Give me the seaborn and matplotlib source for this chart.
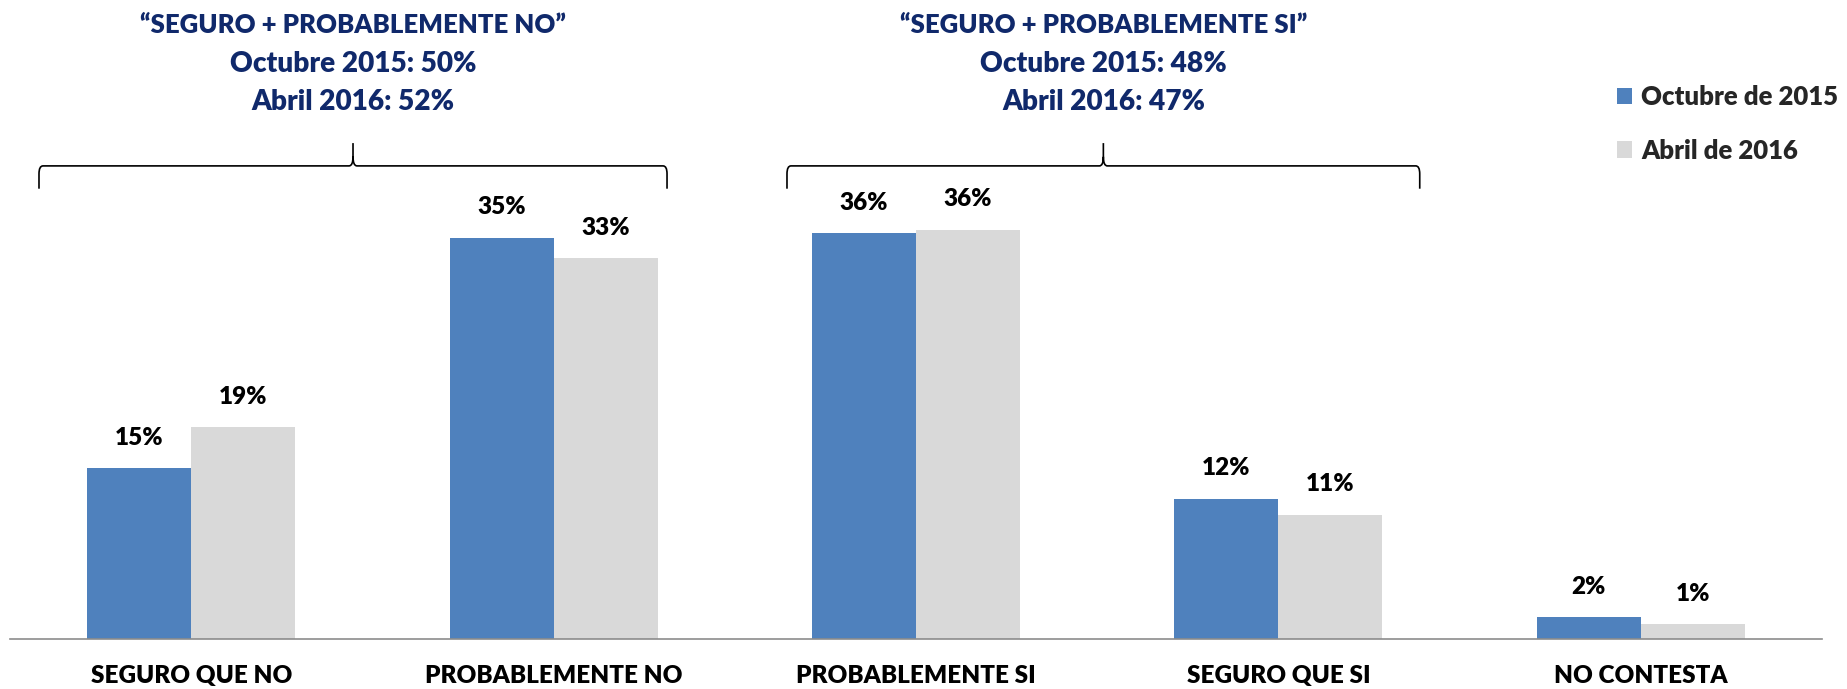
import numpy as np
import pandas as pd
import matplotlib
matplotlib.use("Agg")
import matplotlib.pyplot as plt
from matplotlib.path import Path
from matplotlib.patches import PathPatch
import seaborn as sns

# ---- data ----
categories = ["SEGURO QUE NO", "PROBABLEMENTE NO", "PROBABLEMENTE SI", "SEGURO QUE SI", "NO CONTESTA"]
series_names = ["Octubre de 2015", "Abril de 2016"]
oct_2015 = [15.0, 35.2, 35.6, 12.3, 1.9]
abr_2016 = [18.6, 33.4, 35.9, 10.9, 1.3]
oct_labels = ["15%", "35%", "36%", "12%", "2%"]
abr_labels = ["19%", "33%", "36%", "11%", "1%"]
group_titles = ["\u201cSEGURO + PROBABLEMENTE NO\u201d", "\u201cSEGURO + PROBABLEMENTE SI\u201d"]
group_lines = [["Octubre 2015: 50%", "Abril 2016: 52%"],
               ["Octubre 2015: 48%", "Abril 2016: 47%"]]

colors = ["#4F81BD", "#D9D9D9"]
navy = "#10296B"
axis_grey = "#8C8C8C"

df = pd.DataFrame({
    "cat": categories * 2,
    "val": oct_2015 + abr_2016,
    "serie": [series_names[0]] * len(categories) + [series_names[1]] * len(categories),
})

sns.set_theme(style="white")
FONT = ["Lato", "DejaVu Sans"]
plt.rcParams["font.family"] = FONT
WT = "heavy"

W, H = 1847, 689
fig = plt.figure(figsize=(W / 100, H / 100), dpi=100)
ax = fig.add_axes([10 / W, 50 / H, 1812 / W, 570 / H])

sns.barplot(data=df, x="cat", y="val", hue="serie", order=categories,
            hue_order=series_names, palette=colors, saturation=1,
            width=0.574, gap=0, ax=ax, legend=True, linewidth=0)

ax.set_xlim(-0.5, len(categories) - 0.5)
ax.set_ylim(0, 50)
ax.set_xlabel("")
ax.set_ylabel("")
ax.set_yticks([])
for s in ["left", "right", "top"]:
    ax.spines[s].set_visible(False)
ax.spines["bottom"].set_color(axis_grey)
ax.spines["bottom"].set_linewidth(1.2)

ax.set_xticks(range(len(categories)))
ax.set_xticklabels(categories, fontfamily=FONT, fontweight=WT, fontsize=17.5, color="black")
ax.tick_params(axis="x", which="major", length=0, pad=19)
ax.set_xticks(np.arange(-0.5, len(categories), 1.0), minor=True)
ax.tick_params(axis="x", which="minor", length=6, width=1.2, color=axis_grey, direction="out")

for cont, labs in zip(ax.containers, [oct_labels, abr_labels]):
    ax.bar_label(cont, labels=labs, padding=14, fontsize=17.5, fontweight=WT,
                 fontfamily=FONT, color="black")

# legend
handles, labels = ax.get_legend_handles_labels()
ax.legend(handles, labels, loc="upper left", bbox_to_anchor=(1617 / W, 1 - 85 / H),
          bbox_transform=fig.transFigure, frameon=False, borderpad=0, borderaxespad=0,
          handlelength=0.6, handleheight=0.6, handletextpad=0.34, labelspacing=1.15,
          prop={"family": FONT, "weight": WT, "size": 18.5})

# braces and group annotations
spans = [(-0.42, 1.313), (1.644, 3.39)]
y_line, y_tip, y_end = 41.5, 43.5, 39.5
dx, dy = 0.011, 0.7
tdx, tdy = 0.011, 0.8
for (x0, x1), title, lines in zip(spans, group_titles, group_lines):
    xm = (x0 + x1) / 2
    verts = [(x0, y_end), (x0, y_line - dy), (x0, y_line), (x0 + dx, y_line),
             (xm - tdx, y_line), (xm, y_line), (xm, y_line + tdy), (xm, y_tip),
             (xm, y_line + tdy), (xm, y_line), (xm + tdx, y_line),
             (x1 - dx, y_line), (x1, y_line), (x1, y_line - dy), (x1, y_end)]
    codes = [Path.MOVETO, Path.LINETO, Path.CURVE3, Path.CURVE3,
             Path.LINETO, Path.CURVE3, Path.CURVE3, Path.LINETO,
             Path.MOVETO, Path.CURVE3, Path.CURVE3,
             Path.LINETO, Path.CURVE3, Path.CURVE3, Path.LINETO]
    ax.add_patch(PathPatch(Path(verts, codes), facecolor="none", edgecolor="black",
                           linewidth=1.2, clip_on=False))
    ax.annotate(title, xy=(xm, 1 - 33 / H), xycoords=("data", "figure fraction"),
                ha="center", va="baseline", fontsize=18.5, fontweight=WT,
                fontfamily=FONT, color=navy, annotation_clip=False)
    for ln, yb in zip(lines, [72, 110]):
        ax.annotate(ln, xy=(xm, 1 - yb / H), xycoords=("data", "figure fraction"),
                    ha="center", va="baseline", fontsize=20.2, fontweight=WT,
                    fontfamily=FONT, color=navy, annotation_clip=False)

fig.savefig("out.png", dpi=100)
